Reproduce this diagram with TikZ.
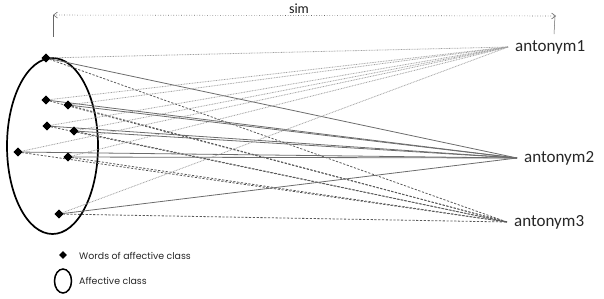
\documentclass[tikz,border=0pt]{standalone}
\usepackage{fontspec}
\setmainfont{Carlito}
\newfontfamily\legendfont{Poppins}
\usetikzlibrary{shapes.geometric,arrows.meta}
\begin{document}
\begin{tikzpicture}[x=1pt,y=-1pt,
  word/.style={diamond,fill=black,inner sep=0pt,minimum width=9pt,minimum height=9pt},
  ant/.style={anchor=west,inner xsep=7pt,inner ysep=0pt,font=\fontsize{17}{17}\selectfont,text=black!85},
  lone/.style={gray!75,dash pattern=on 0.8pt off 0.8pt,line width=0.8pt},
  ltwo/.style={gray!85!black,line width=0.8pt},
  lthree/.style={gray!70!black,dash pattern=on 2.2pt off 1.6pt,line width=0.8pt},
  cls/.style={ellipse,draw=black,line width=1.7pt,inner sep=0pt},
  leg/.style={anchor=west,font=\legendfont\fontsize{9.4}{10}\selectfont,inner sep=0pt,text=black!85}]
\useasboundingbox (0,0) rectangle (604,298);
% affective class
\node[cls,minimum width=91pt,minimum height=176pt] (E) at (52.5,146) {};
% words
\node[word] (w1) at (46,58) {};
\node[word] (w2) at (46,100) {};
\node[word] (w3) at (68,105) {};
\node[word] (w4) at (47,126) {};
\node[word] (w5) at (74,131) {};
\node[word] (w6) at (18,152) {};
\node[word] (w7) at (68,157) {};
\node[word] (w8) at (59,214) {};
% antonyms
\node[ant] (a1) at (508,47) {antonym1};
\node[ant] (a2) at (517,158) {antonym2};
\node[ant] (a3) at (507,222) {antonym3};
% connectors
\foreach \w in {w1,w2,w3,w4,w5,w6,w7,w8}{
  \draw[lone] (\w.center) -- (a1.west);
  \draw[ltwo] (\w.center) -- (a2.west);
  \draw[lthree] (\w.center) -- (a3.west);
}
% redraw words on top
\foreach \p in {(46,58),(46,100),(68,105),(47,126),(74,131),(18,152),(68,157),(59,214)}{
  \node[word] at \p {};
}
% sim
\coordinate (sL) at (53,15);
\coordinate (sR) at (556,16);
\draw[gray!80!black,line width=0.5pt] (53,15) -- (53,37);
\draw[gray!80!black,line width=0.5pt] (555,16) -- (554,34);
\draw[gray!80!black,dotted,line width=0.6pt,{Straight Barb[length=4pt,width=6pt]}-{Straight Barb[length=4pt,width=6pt]}] (sL) -- (sR);
\node[font=\fontsize{14}{14}\selectfont,gray!20!black] (sim) at (299,9) {sim};
% legend
\node[word,minimum width=8pt,minimum height=8pt] (lw) at (63,255) {};
\node[leg] (lwt) at (79,255.5) {Words of affective class};
\node[ellipse,draw=black,line width=1.5pt,minimum width=17pt,minimum height=24pt,inner sep=0pt] (le) at (63,281) {};
\node[leg] (let) at (79,281) {Affective class};
\end{tikzpicture}
\end{document}
